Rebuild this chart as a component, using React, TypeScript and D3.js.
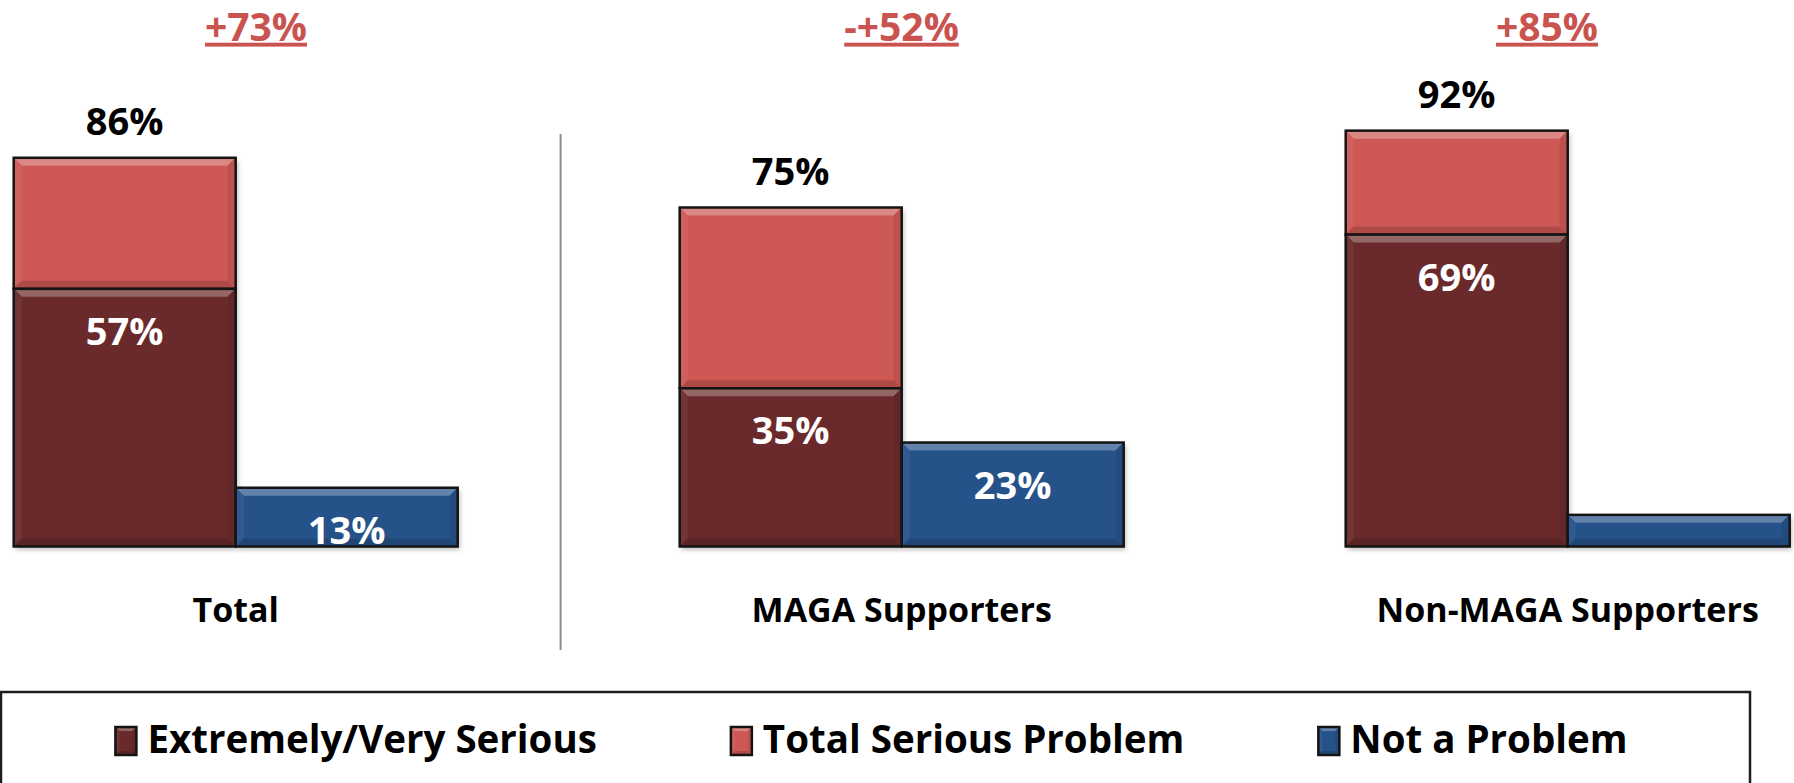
import React from "react";
import * as d3 from "d3";

const categories = ["Total", "MAGA Supporters", "Non-MAGA Supporters"];
const extremelyVerySerious = [57, 35, 69];
const totalSerious = [86, 75, 92];
const notAProblem = [13, 23, 7];
const notAProblemLabels = ["13%", "23%", ""];
const deltaLabels = ["+73%", "-+52%", "+85%"];
const legendItems = ["Extremely/Very Serious", "Total Serious Problem", "Not a Problem"];

const W = 1794;
const H = 783;
const FONT = "'Open Sans', 'DejaVu Sans', sans-serif";

const COLORS = {
  dark: "#6a2a2b",
  red: "#cd5854",
  blue: "#26528a",
  delta: "#c9534f",
};

function measure(text: string, size: number) {
  if (typeof document === "undefined") return text.length * size * 0.55;
  const c = document.createElement("canvas");
  const ctx = c.getContext("2d")!;
  ctx.font = `bold ${size}px 'Open Sans'`;
  return ctx.measureText(text).width;
}

function Bevel({ x, y, w, h, color, b = 8 }: { x: number; y: number; w: number; h: number; color: string; b?: number }) {
  const bb = Math.min(b, h / 2, w / 2);
  const light = d3.interpolateRgb(color, "#ffffff")(0.28);
  const lightSide = d3.interpolateRgb(color, "#ffffff")(0.05);
  const darkSide = d3.interpolateRgb(color, "#000000")(0.08);
  const darkBottom = d3.interpolateRgb(color, "#000000")(0.15);
  const p = (pts: number[][]) => pts.map((q) => q.join(",")).join(" ");
  return (
    <g>
      <rect x={x} y={y} width={w} height={h} fill={color} />
      <polygon points={p([[x, y], [x + w, y], [x + w - bb, y + bb], [x + bb, y + bb]])} fill={light} />
      <polygon points={p([[x, y], [x + bb, y + bb], [x + bb, y + h - bb], [x, y + h]])} fill={lightSide} />
      <polygon points={p([[x + w, y], [x + w - bb, y + bb], [x + w - bb, y + h - bb], [x + w, y + h]])} fill={darkSide} />
      <polygon points={p([[x, y + h], [x + bb, y + h - bb], [x + w - bb, y + h - bb], [x + w, y + h]])} fill={darkBottom} />
      <rect x={x} y={y} width={w} height={h} fill="none" stroke="#141414" strokeWidth={2.5} />
    </g>
  );
}

export default function App() {
  const xGroup = d3.scaleBand<string>().domain(categories).range([13.7, 1789.7]).paddingInner(1 / 3).paddingOuter(0);
  const xSub = d3.scaleBand<string>().domain(["serious", "not"]).range([0, xGroup.bandwidth()]).padding(0);
  const xDelta = d3.scalePoint<string>().domain(categories).range([256, 1547]);
  const y = d3.scaleLinear().domain([0, 100]).range([546.5, 94.5]);
  const bw = xSub.bandwidth();

  const legendSize = 38.5;
  const sw = 21;
  const swGap = 11;
  const itemGap = 134;
  const widths = legendItems.map((t) => measure(t, legendSize));
  const total = widths.reduce((a, w) => a + sw + swGap + w, 0) + itemGap * (legendItems.length - 1);
  const legendBox = { x: 1, y: 692, w: 1749, h: 120 };
  let lx = legendBox.x + legendBox.w / 2 - 4 - total / 2;
  const legendPos = widths.map((w) => {
    const s = lx;
    lx += sw + swGap + w + itemGap;
    return s;
  });
  const legendColors = [COLORS.dark, COLORS.red, COLORS.blue];

  return (
    <svg width={W} height={H} style={{ position: "absolute", left: 0, top: 0, background: "#fff" }} fontFamily={FONT}>
      <defs>
        <filter id="shadow" x="-10%" y="-10%" width="130%" height="130%">
          <feGaussianBlur stdDeviation="2.5" />
        </filter>
      </defs>
      <rect width={W} height={H} fill="#fff" />

      {/* divider */}
      <line x1={560.6} x2={560.6} y1={134} y2={650} stroke="#8c8c8c" strokeWidth={2} />

      {categories.map((cat, i) => {
        const gx = xGroup(cat)!;
        const sx = gx + xSub("serious")!;
        const nx = gx + xSub("not")!;
        const y0 = y(0);
        const yTot = y(totalSerious[i]);
        const yDark = y(extremelyVerySerious[i]);
        const yNot = y(notAProblem[i]);
        const cx = gx + xGroup.bandwidth() / 2;
        return (
          <g key={cat}>
            <rect x={sx + 2} y={yTot + 3} width={bw} height={y0 - yTot} fill="rgba(0,0,0,0.28)" filter="url(#shadow)" />
            <rect x={nx + 2} y={yNot + 3} width={bw} height={y0 - yNot} fill="rgba(0,0,0,0.28)" filter="url(#shadow)" />
            <Bevel x={sx} y={yTot} w={bw} h={yDark - yTot} color={COLORS.red} />
            <Bevel x={sx} y={yDark} w={bw} h={y0 - yDark} color={COLORS.dark} />
            <Bevel x={nx} y={yNot} w={bw} h={y0 - yNot} color={COLORS.blue} />

            <text x={sx + bw / 2} y={yTot - 23} textAnchor="middle" fontSize={38} fontWeight={700} fill="#000">
              {`${totalSerious[i]}%`}
            </text>
            <text x={sx + bw / 2} y={yDark + 56} textAnchor="middle" fontSize={38} fontWeight={700} fill="#fff">
              {`${extremelyVerySerious[i]}%`}
            </text>
            {notAProblemLabels[i] && (
              <text x={nx + bw / 2} y={yNot + 56} textAnchor="middle" fontSize={38} fontWeight={700} fill="#fff">
                {notAProblemLabels[i]}
              </text>
            )}

            <text x={cx} y={y0 + 75} textAnchor="middle" fontSize={34} fontWeight={700} fill="#000">
              {cat}
            </text>

            <text
              x={xDelta(cat)}
              y={40.7}
              textAnchor="middle"
              fontSize={39}
              fontWeight={700}
              fill={COLORS.delta}
              textDecoration="underline"
            >
              {deltaLabels[i]}
            </text>
          </g>
        );
      })}

      {/* legend */}
      <rect x={legendBox.x} y={legendBox.y} width={legendBox.w} height={legendBox.h} fill="none" stroke="#1e1e1e" strokeWidth={2.5} />
      {legendItems.map((t, i) => {
        const x0 = legendPos[i];
        return (
          <g key={t}>
            <Bevel x={x0} y={727} w={sw} h={28} color={legendColors[i]} b={4} />
            <text x={x0 + sw + swGap} y={753} fontSize={legendSize} fontWeight={700} fill="#000">
              {t}
            </text>
          </g>
        );
      })}
    </svg>
  );
}
